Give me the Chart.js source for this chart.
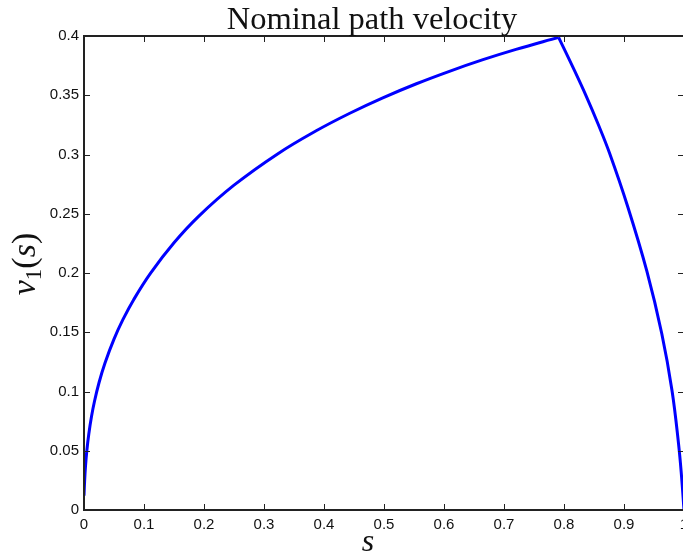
<!DOCTYPE html>
<html lang="en">
<head>
    <meta charset="UTF-8">
    <title>Nominal path velocity</title>
    <script src="https://cdn.jsdelivr.net/npm/chart.js"></script>
    <style>
        html, body {
            margin: 0;
            padding: 0;
            background: #fff;
            overflow: hidden;
        }
        #velocityChart {
            display: block;
        }
    </style>
</head>
<body>
    <canvas id="velocityChart" width="700" height="556"></canvas>

    <script>
        // path parameter s and velocity v1(s)
        const sRise = [0, 0.001, 0.0025, 0.0047, 0.008, 0.0125, 0.0175, 0.025, 0.035, 0.05, 0.065, 0.083,
                       0.111, 0.150, 0.191, 0.250, 0.322, 0.387, 0.443, 0.498, 0.554, 0.609, 0.665, 0.720, 0.791];
        const vRise = [0.012, 0.024, 0.037, 0.050, 0.0642, 0.0789, 0.0918, 0.1074, 0.1241, 0.1442, 0.1608, 0.1777,
                       0.1999, 0.2255, 0.2478, 0.2741, 0.3003, 0.3200, 0.3348, 0.3478, 0.3597, 0.3702, 0.3800, 0.3887, 0.3989];
        const sFall = [0.791, 0.815, 0.837, 0.857, 0.876, 0.906, 0.938, 0.963, 0.980, 0.991, 0.996, 1.0];
        const vFall = [0.3989, 0.3735, 0.3493, 0.3255, 0.3010, 0.2563, 0.2017, 0.1487, 0.1009, 0.0554, 0.0278, 0.0];

        const xTicks = [0, 0.1, 0.2, 0.3, 0.4, 0.5, 0.6, 0.7, 0.8, 0.9, 1];
        const yTicks = [0, 0.05, 0.1, 0.15, 0.2, 0.25, 0.3, 0.35, 0.4];

        const titleText = 'Nominal path velocity';

        function toPoints(xs, ys) {
            return xs.map((x, i) => ({ x: x, y: ys[i] }));
        }

        function fmt(v) {
            return String(Math.round(v * 100) / 100);
        }

        // matlab style box with inward ticks, plus the latex-ish labels
        const frame = {
            id: 'frame',
            afterDraw(chart) {
                const ctx = chart.ctx;
                const a = chart.chartArea;
                const x = chart.scales.x, y = chart.scales.y;
                ctx.save();
                ctx.strokeStyle = '#222';
                ctx.lineWidth = 1;
                ctx.beginPath();
                xTicks.forEach(t => {
                    const px = Math.round(x.getPixelForValue(t)) + 0.5;
                    ctx.moveTo(px, a.bottom); ctx.lineTo(px, a.bottom - 6);
                    ctx.moveTo(px, a.top); ctx.lineTo(px, a.top + 6);
                });
                yTicks.forEach(t => {
                    const py = Math.round(y.getPixelForValue(t)) + 0.5;
                    ctx.moveTo(a.left, py); ctx.lineTo(a.left + 6, py);
                    ctx.moveTo(a.right, py); ctx.lineTo(a.right - 6, py);
                });
                ctx.stroke();
                ctx.lineWidth = 2;
                ctx.strokeRect(a.left, a.top, a.right - a.left, a.bottom - a.top);

                ctx.fillStyle = '#111';
                ctx.textBaseline = 'alphabetic';

                // title
                ctx.font = '32.5px "Liberation Serif"';
                ctx.textAlign = 'center';
                ctx.fillText(titleText, 372, 29);

                // x label
                ctx.font = 'italic 32px "Liberation Serif"';
                ctx.fillText('s', 368, 551);

                // y label v_1(s), rotated
                const parts = [
                    { t: 'v', f: 'italic 34px "Liberation Serif"', dy: 0 },
                    { t: '1', f: '23px "Liberation Serif"', dy: 6 },
                    { t: '(', f: '34px "Liberation Serif"', dy: 0 },
                    { t: 's', f: 'italic 34px "Liberation Serif"', dy: 0 },
                    { t: ')', f: '34px "Liberation Serif"', dy: 0 }
                ];
                let total = 0;
                parts.forEach(p => { ctx.font = p.f; p.w = ctx.measureText(p.t).width; total += p.w; });
                ctx.translate(35, 264);
                ctx.rotate(-Math.PI / 2);
                ctx.textAlign = 'left';
                let cx = -total / 2;
                parts.forEach(p => {
                    ctx.font = p.f;
                    ctx.fillText(p.t, cx, p.dy);
                    cx += p.w;
                });
                ctx.restore();
            }
        };

        const lineStyle = {
            borderColor: '#0000ff',
            borderWidth: 3,
            pointRadius: 0,
            fill: false,
            tension: 0.4
        };

        new Chart(document.getElementById('velocityChart'), {
            type: 'line',
            data: {
                datasets: [
                    Object.assign({ data: toPoints(sRise, vRise) }, lineStyle),
                    Object.assign({ data: toPoints(sFall, vFall) }, lineStyle)
                ]
            },
            options: {
                responsive: false,
                animation: false,
                layout: { padding: { top: 36, right: 16, left: 0, bottom: 0 } },
                plugins: {
                    legend: { display: false },
                    tooltip: { enabled: false },
                    title: { display: false }
                },
                scales: {
                    x: {
                        type: 'linear',
                        min: 0,
                        max: 1,
                        afterBuildTicks: s => { s.ticks = xTicks.map(v => ({ value: v })); },
                        ticks: {
                            color: '#111',
                            font: { family: 'Liberation Sans', size: 15 },
                            padding: 6,
                            maxRotation: 0,
                            autoSkip: false,
                            callback: fmt
                        },
                        grid: { display: false, drawTicks: false },
                        border: { display: false },
                        afterFit: s => { s.height = 46; }
                    },
                    y: {
                        min: 0,
                        max: 0.4,
                        afterBuildTicks: s => { s.ticks = yTicks.map(v => ({ value: v })); },
                        ticks: {
                            color: '#111',
                            font: { family: 'Liberation Sans', size: 15 },
                            padding: 5,
                            autoSkip: false,
                            callback: fmt
                        },
                        grid: { display: false, drawTicks: false },
                        border: { display: false },
                        afterFit: s => { s.width = 84; }
                    }
                }
            },
            plugins: [frame]
        });
    </script>
</body>
</html>
